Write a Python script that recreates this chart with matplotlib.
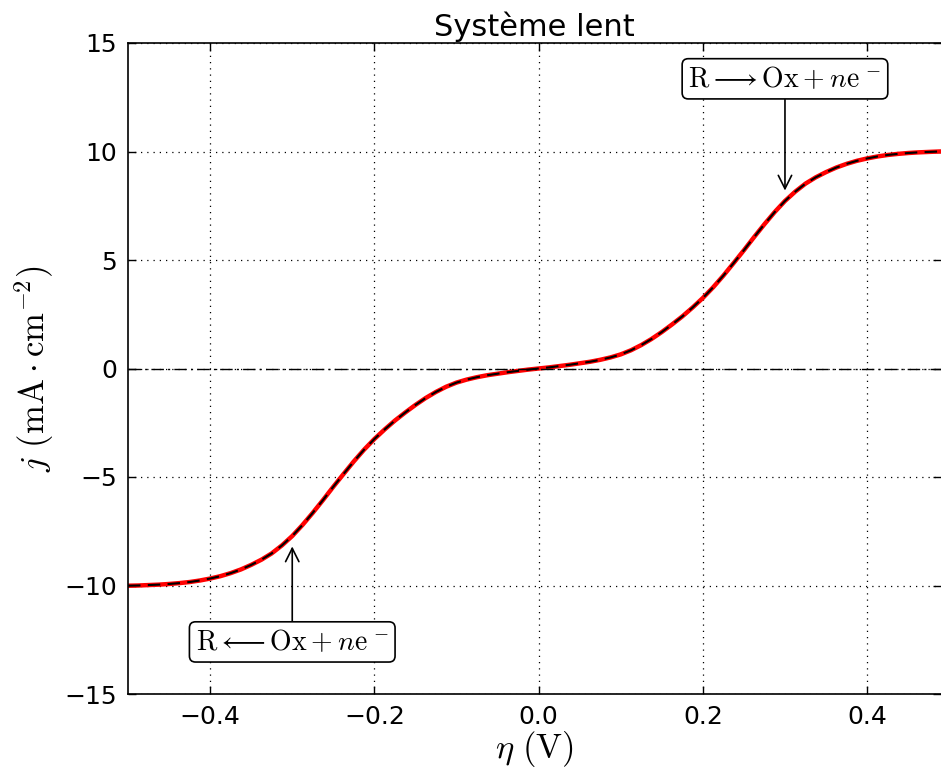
import matplotlib
matplotlib.use("Agg")
import matplotlib.pyplot as plt

plt.rcParams['mathtext.fontset'] = 'cm'
plt.rcParams['font.family'] = 'DejaVu Sans'

# overpotential (V), every 0.0125 V
eta = [-0.5000, -0.4875, -0.4750, -0.4625, -0.4500, -0.4375, -0.4250, -0.4125,
       -0.4000, -0.3875, -0.3750, -0.3625, -0.3500, -0.3375, -0.3250, -0.3125,
       -0.3000, -0.2875, -0.2750, -0.2625, -0.2500, -0.2375, -0.2250, -0.2125,
       -0.2000, -0.1875, -0.1750, -0.1625, -0.1500, -0.1375, -0.1250, -0.1125,
       -0.1000, -0.0875, -0.0750, -0.0625, -0.0500, -0.0375, -0.0250, -0.0125,
       0.0000, 0.0125, 0.0250, 0.0375, 0.0500, 0.0625, 0.0750, 0.0875,
       0.1000, 0.1125, 0.1250, 0.1375, 0.1500, 0.1625, 0.1750, 0.1875,
       0.2000, 0.2125, 0.2250, 0.2375, 0.2500, 0.2625, 0.2750, 0.2875,
       0.3000, 0.3125, 0.3250, 0.3375, 0.3500, 0.3625, 0.3750, 0.3875,
       0.4000, 0.4125, 0.4250, 0.4375, 0.4500, 0.4625, 0.4750, 0.4875,
       0.5000]
# current density (mA/cm2)
j = [-10.01, -10.00, -9.98, -9.96, -9.93, -9.89, -9.84, -9.77,
     -9.68, -9.57, -9.43, -9.26, -9.05, -8.81, -8.52, -8.15,
     -7.72, -7.21, -6.65, -6.06, -5.45, -4.86, -4.28, -3.74,
     -3.25, -2.81, -2.40, -2.03, -1.68, -1.36, -1.08, -0.84,
     -0.65, -0.51, -0.40, -0.31, -0.24, -0.17, -0.11, -0.05,
     0.00, 0.05, 0.11, 0.17, 0.24, 0.31, 0.40, 0.51,
     0.65, 0.84, 1.08, 1.36, 1.68, 2.03, 2.40, 2.81,
     3.25, 3.74, 4.28, 4.86, 5.45, 6.06, 6.65, 7.21,
     7.72, 8.15, 8.52, 8.81, 9.05, 9.26, 9.43, 9.57,
     9.68, 9.77, 9.84, 9.89, 9.93, 9.96, 9.98, 10.00,
     10.01]

fig = plt.figure(figsize=(9.41, 7.73), dpi=100)
ax = fig.add_axes([128/941, 1-694/773, 1-128/941, (694-43)/773])

ax.plot(eta, j, color='red', lw=3.2, solid_capstyle='round', solid_joinstyle='round')
ax.plot(eta, j, color='black', lw=1.5, dashes=(6, 3.5))
ax.axhline(0, color='black', lw=1.0, dashes=(9, 3, 1.5, 3))

ax.set_xlim(-0.5, 0.49)
ax.set_ylim(-15, 15)
ax.set_xticks([-0.4, -0.2, 0.0, 0.2, 0.4])
ax.set_yticks([-15, -10, -5, 0, 5, 10, 15])
ax.grid(True, color='black', lw=0.9, dashes=(1, 4))
ax.tick_params(direction='in', length=6, width=1, top=True, right=True,
               labelsize=18, pad=8)
ax.spines['right'].set_visible(False)
for s in ['left', 'top', 'bottom']:
    ax.spines[s].set_linewidth(1.2)

ax.set_title('Système lent', fontsize=22, pad=5)
ax.set_xlabel(r'$\eta\ (\mathrm{V})$', fontsize=25, labelpad=0)
ax.set_ylabel(r'$j\ (\mathrm{mA\cdot cm^{-2}})$', fontsize=25, labelpad=6)

box = dict(boxstyle='round,pad=0.22', fc='white', ec='black', lw=1.2)
arr = dict(arrowstyle='->', color='black', lw=1.2, mutation_scale=24, shrinkA=0, shrinkB=0)
ax.annotate(r'$\mathrm{R}\longrightarrow\mathrm{Ox}+n\mathrm{e}^{\,-}$', xy=(0.3, 8.2),
            xytext=(0.3, 13.35), ha='center', va='center', fontsize=20,
            bbox=box, arrowprops=arr)
ax.annotate(r'$\mathrm{R}\longleftarrow\mathrm{Ox}+n\mathrm{e}^{\,-}$', xy=(-0.3, -8.2),
            xytext=(-0.3, -12.6), ha='center', va='center', fontsize=20,
            bbox=box, arrowprops=arr)

fig.savefig('out.png', dpi=100)
